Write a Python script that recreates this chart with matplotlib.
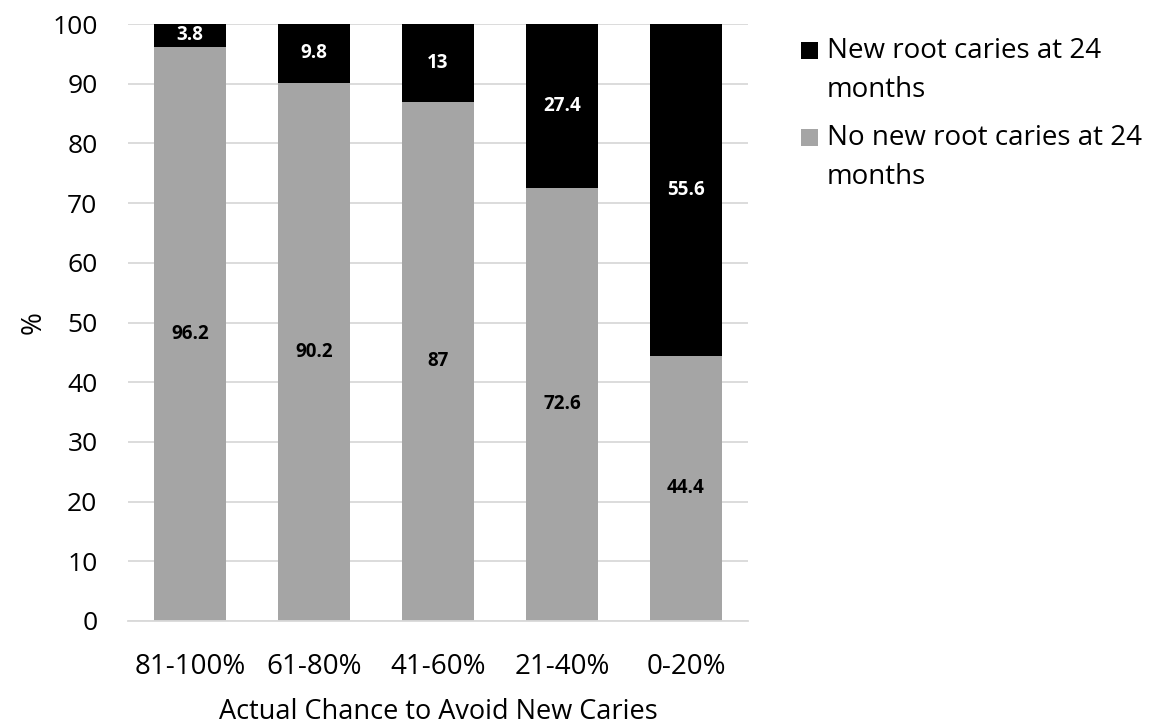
import matplotlib
matplotlib.use("Agg")
import matplotlib.pyplot as plt
import numpy as np
from matplotlib.container import BarContainer
from matplotlib.legend_handler import HandlerBase
from matplotlib.patches import Rectangle

categories = ["81-100%", "61-80%", "41-60%", "21-40%", "0-20%"]
no_new = [96.2, 90.2, 87, 72.6, 44.4]
new_caries = [3.8, 9.8, 13, 27.4, 55.6]
series_names = ["New root caries at 24\nmonths", "No new root caries at 24\nmonths"]
yticks = list(range(0, 101, 10))

plt.rcParams['font.family'] = ['Open Sans', 'DejaVu Sans']

fig = plt.figure(figsize=(11.54, 7.26), dpi=100)
ax = fig.add_axes([128/1154, 1-621/726, 620/1154, 597/726])

x = np.arange(len(categories))
w = 0.575
b1 = ax.bar(x, no_new, w, color="#a5a5a5", zorder=2, label=series_names[1])
b2 = ax.bar(x, new_caries, w, bottom=no_new, color="#000000", zorder=2, label=series_names[0])

ax.bar_label(b1, labels=[f"{v:g}" for v in no_new], label_type="center",
             color="black", fontsize=13.5, fontweight="bold")
ax.bar_label(b2, labels=[f"{v:g}" for v in new_caries], label_type="center",
             color="white", fontsize=13.5, fontweight="bold")

ax.set_xlim(-0.5, len(categories) - 0.5)
ax.set_ylim(0, 100)
ax.set_yticks(yticks)
ax.set_xticks(x)
ax.set_xticklabels(categories)
ax.tick_params(axis="both", length=0, colors="black")
ax.tick_params(axis="y", pad=22, labelsize=19)
ax.tick_params(axis="x", pad=23, labelsize=20)
ax.yaxis.grid(True, color="#d9d9d9", linewidth=1.3, zorder=0)
ax.set_axisbelow(True)
for s in ["top", "right", "left"]:
    ax.spines[s].set_visible(False)
ax.spines["bottom"].set_color("#d9d9d9")
ax.spines["bottom"].set_linewidth(1.3)

ax.set_ylabel("%", fontsize=20)
ax.yaxis.set_label_coords(-0.13, 0.5)
ax.set_xlabel("Actual Chance to Avoid New Caries", fontsize=19.5, labelpad=12.5)


class TopSquare(HandlerBase):
    def create_artists(self, legend, orig_handle, xdescent, ydescent,
                       width, height, fontsize, trans):
        s = 0.62 * fontsize
        bottom = 0.79 * fontsize
        fc = orig_handle.patches[0].get_facecolor()
        r = Rectangle((-xdescent, bottom), s, s, facecolor=fc,
                      edgecolor="none", transform=trans)
        return [r]


handles = [b2, b1]
leg = fig.legend(handles, series_names, loc="upper left",
                 bbox_to_anchor=(801/1154, 1-37/726), frameon=False,
                 fontsize=20, handlelength=0.62, handleheight=0.7,
                 handletextpad=0.3, labelspacing=0.72, borderpad=0,
                 borderaxespad=0, handler_map={BarContainer: TopSquare()})
for t in leg.get_texts():
    t.set_linespacing(1.53)

fig.savefig("out.png", dpi=100)
